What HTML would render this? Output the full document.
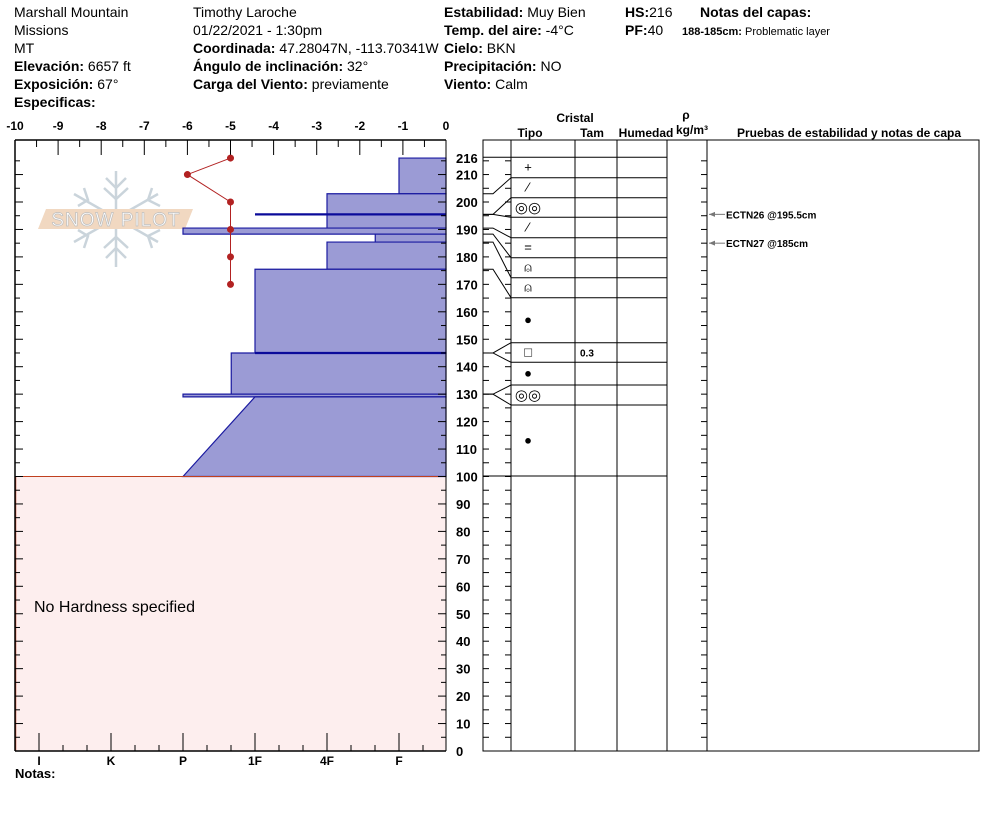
<!DOCTYPE html>
<html><head><meta charset="utf-8">
<style>
html,body{margin:0;padding:0;background:#fff;}
svg{display:block;font-family:"Liberation Sans",Arial,sans-serif;}
.h{font-size:14px;fill:#000;}
.b{font-weight:bold;}
.ax{font-size:12px;font-weight:bold;fill:#000;}
</style></head>
<body>
<svg id="chart" width="994" height="840" viewBox="0 0 994 840" xmlns="http://www.w3.org/2000/svg">
<g>
<text class="h" x="14" y="17">Marshall Mountain</text>
<text class="h" x="14" y="35">Missions</text>
<text class="h" x="14" y="53">MT</text>
<text class="h" x="14" y="71"><tspan class="b">Elevación:</tspan> 6657 ft</text>
<text class="h" x="14" y="89"><tspan class="b">Exposición:</tspan> 67°</text>
<text class="h b" x="14" y="107">Especificas:</text>
<text class="h" x="193" y="17">Timothy  Laroche</text>
<text class="h" x="193" y="35">01/22/2021 - 1:30pm</text>
<text class="h" x="193" y="53"><tspan class="b">Coordinada:</tspan> 47.28047N, -113.70341W</text>
<text class="h" x="193" y="71"><tspan class="b">Ángulo de inclinación:</tspan> 32°</text>
<text class="h" x="193" y="89"><tspan class="b">Carga del Viento:</tspan> previamente</text>
<text class="h" x="444" y="17"><tspan class="b">Estabilidad:</tspan> Muy Bien</text>
<text class="h" x="444" y="35"><tspan class="b">Temp. del aire:</tspan> -4°C</text>
<text class="h" x="444" y="53"><tspan class="b">Cielo:</tspan> BKN</text>
<text class="h" x="444" y="71"><tspan class="b">Precipitación:</tspan> NO</text>
<text class="h" x="444" y="89"><tspan class="b">Viento:</tspan>  Calm</text>
<text class="h" x="625" y="17"><tspan class="b">HS:</tspan>216</text>
<text class="h" x="625" y="35"><tspan class="b">PF:</tspan>40</text>
<text class="h b" x="700" y="17">Notas del capas:</text>
<text x="682" y="35" style="font-size:11px"><tspan style="font-weight:bold">188-185cm:</tspan> Problematic layer</text>
</g>

<g opacity="0.9">
<g stroke="#c5d0d8" stroke-width="2.5" fill="none">
<line x1="116" y1="171" x2="116" y2="267"/>
<line x1="74" y1="194" x2="158" y2="242"/>
<line x1="74" y1="242" x2="158" y2="194"/>
<path d="M106 178 L116 188 L126 178 M104 188 L116 199 L128 188 M106 258 L116 248 L126 258 M104 248 L116 237 L128 248"/>
<path d="M78 206 L88 200 L84 188 M160 206 L148 200 L152 188 M78 230 L88 236 L84 248 M160 230 L148 236 L152 248"/>
</g>
<polygon points="46,209 193,209 185,229 38,229" fill="#f0d4bb"/>
<text x="116" y="226" text-anchor="middle" style="font-size:19px;letter-spacing:1px" fill="#fff" stroke="#b8b8b8" stroke-width="0.7">SNOW PILOT</text>
</g>

<g id="plot"></g>
<g id="table"></g>

<text x="34" y="612" style="font-size:16px">No Hardness specified</text>
<text class="ax" x="15" y="778" style="font-size:13px">Notas:</text>
</svg>
<script>
// ---- data ----
const tempDepths = [216, 210, 200, 190, 180, 170];
const tempValues = [-5, -6, -5, -5, -5, -5];
const tempTicks = [-10,-9,-8,-7,-6,-5,-4,-3,-2,-1,0];
const hardLabels = ["I","K","P","1F","4F","F"];
const layerTops =    [216, 203, 190.5, 188.3, 185.4, 175.5, 145, 130, 129];
const layerBottoms = [203, 190.5, 188.3, 185.4, 175.5, 145, 130, 129, 100];
const layerHardTop = [5, 4, 2, 4.67, 4, 3, 2.67, 2, 3];
const layerHardBot = [5, 4, 2, 4.67, 4, 3, 2.67, 2, 2];
const interfaceLines = [195.5, 145];
const heightTicks = [0,10,20,30,40,50,60,70,80,90,100,110,120,130,140,150,160,170,180,190,200,210,216];
const grainTypes = ["+","⁄","◎◎","⁄","=","⍝","⍝","●","□","●","◎◎","●"];
const grainSizes = ["","","","","","","","","0.3","","",""];
const tests = ["ECTN26 @195.5cm","ECTN27 @185cm"];
const testDepths = [195.5, 185];
// ---- scales ----
const NS="http://www.w3.org/2000/svg";
const X0=15, X1=446, YB=751, YT=140;
const yS = h => YB - 2.745*h;
const xT = t => X1 + (t)*(X1-X0)/10;
const xH = v => 39 + 72*v;
function mk(parent, tag, attrs){const e=document.createElementNS(NS,tag);for(const k in attrs)e.setAttribute(k,attrs[k]);parent.appendChild(e);return e;}
const plot=document.getElementById('plot');
const table=document.getElementById('table');
let r=mk(plot,'rect',{x:X0,y:yS(100),width:X1-X0,height:YB-yS(100),fill:'#fdeeee'});


for(let i=0;i<layerTops.length;i++){
  const yt=yS(layerTops[i]), yb=yS(layerBottoms[i]);
  const p=mk(plot,'polygon',{points:`${xH(layerHardTop[i])},${yt} ${X1},${yt} ${X1},${yb} ${xH(layerHardBot[i])},${yb}`,fill:'#9b9bd5',stroke:'#1a1aa0','stroke-width':1.2});
  
  
}
for(const d of interfaceLines){
  const l=mk(plot,'line',{x1:xH(3),x2:X1,y1:yS(d),y2:yS(d),stroke:'#0a0a9a','stroke-width':2.2});
  
  
}
mk(plot,'line',{x1:X0,x2:X1,y1:yS(100),y2:yS(100),stroke:'#c0401f','stroke-width':1});
mk(plot,'line',{x1:X0+0.5,x2:X0+0.5,y1:yS(100),y2:YB,stroke:'#c0401f','stroke-width':1.5});
mk(plot,'line',{x1:X0,x2:X1,y1:YT,y2:YT,stroke:'#000','stroke-width':1.5});
mk(plot,'line',{x1:X0,x2:X0,y1:YT,y2:YB,stroke:'#000','stroke-width':1.5});
mk(plot,'line',{x1:X1,x2:X1,y1:YT,y2:YB,stroke:'#000','stroke-width':1});
mk(plot,'line',{x1:X0,x2:X1,y1:YB,y2:YB,stroke:'#000','stroke-width':1.5});
tempTicks.forEach((t,i)=>{
  const x=xT(t);
  mk(plot,'line',{x1:x,x2:x,y1:YT,y2:YT+15,stroke:'#000'});
  if(i<tempTicks.length-1){const xm=xT(t+0.5);mk(plot,'line',{x1:xm,x2:xm,y1:YT,y2:YT+7,stroke:'#000'});}
  const tx=mk(plot,'text',{x:x,y:YT-10,'text-anchor':'middle',class:'ax'});tx.textContent=t;
  
  
});
hardLabels.forEach((h,i)=>{
  const x=xH(i);
  mk(plot,'line',{x1:x,x2:x,y1:YB,y2:YB-18,stroke:'#000'});
  [24,48].forEach(o=>{if(x+o<X1)mk(plot,'line',{x1:x+o,x2:x+o,y1:YB,y2:YB-6,stroke:'#000'});});
  const tx=mk(plot,'text',{x:x,y:YB+14,'text-anchor':'middle',class:'ax'});tx.textContent=h;
  
  
});
for(let h=0;h<=215;h+=5){
  const y=yS(h), L=h%10===0?8:5;
  mk(plot,'line',{x1:X0,x2:X0+L,y1:y,y2:y,stroke:'#000'});
  mk(plot,'line',{x1:X1-L,x2:X1,y1:y,y2:y,stroke:'#000'});
  mk(table,'line',{x1:483,x2:489,y1:y,y2:y,stroke:'#000'});
  mk(table,'line',{x1:505,x2:511,y1:y,y2:y,stroke:'#000'});
  mk(table,'line',{x1:701,x2:707,y1:y,y2:y,stroke:'#000'});
}
heightTicks.forEach(h=>{
  const tx=mk(plot,'text',{x:456,y:yS(h)+5,class:'ax',style:'font-size:13px'});tx.textContent=h;
  
  
});
const pts=tempDepths.map((d,i)=>`${xT(tempValues[i])},${yS(d)}`).join(' ');
const pl=mk(plot,'polyline',{points:pts,fill:'none',stroke:'#b22222','stroke-width':1});


tempDepths.forEach((d,i)=>{
  const c=mk(plot,'circle',{cx:xT(tempValues[i]),cy:yS(d),r:3.5,fill:'#b22222'});
  
  
});
mk(table,'rect',{x:483,y:YT,width:496,height:YB-YT,fill:'none',stroke:'#000'});
[511,575,617,667,707].forEach(x=>mk(table,'line',{x1:x,x2:x,y1:YT,y2:YB,stroke:'#000'}));
const rowB=[157.3,177.7,197.7,217.3,237.7,257.7,277.7,297.7,342.7,362.3,385,405,476];
rowB.forEach(y=>mk(table,'line',{x1:511,x2:667,y1:y,y2:y,stroke:'#000'}));
mk(table,'line',{x1:483,x2:511,y1:157.3,y2:157.3,stroke:'#000'});
mk(table,'line',{x1:483,x2:511,y1:476,y2:476,stroke:'#000'});
const conFrom=[203,195.5,195.5,190.5,188.3,185.4,175.5,145,145,130,130];
const conTo=[1,2,3,4,5,6,7,8,9,10,11];
conFrom.forEach((d,i)=>{
  const y=yS(d);
  mk(table,'polyline',{points:`483,${y} 493,${y} 511,${rowB[conTo[i]]}`,fill:'none',stroke:'#000'});
});
grainTypes.forEach((g,i)=>{
  const yc=(rowB[i]+rowB[i+1])/2+4;
  const t=mk(table,'text',{x:528,y:yc+(g==='◎◎'?1:0),'text-anchor':'middle',style:'font-size:'+(g==='◎◎'?'15px':'13px')});t.textContent=g;
  
  
  if(grainSizes[i]){const s=mk(table,'text',{x:580,y:yc,style:'font-size:10px;font-weight:bold'});s.textContent=grainSizes[i];
  
  }
});
tests.forEach((t,i)=>{
  const y=yS(testDepths[i]);
  mk(table,'line',{x1:709,x2:725,y1:y,y2:y,stroke:'#777'});
  mk(table,'polygon',{points:`709,${y} 715,${y-2.5} 715,${y+2.5}`,fill:'#777'});
  const tx=mk(table,'text',{x:726,y:y+4,style:'font-size:10px;font-weight:bold'});tx.textContent=t;
  
  
});
const hdr=[["Cristal",575,122],["Tipo",530,137],["Tam",592,137],["Humedad",646,137],["ρ",686,119],["kg/m³",692,134],["Pruebas de estabilidad y notas de capa",849,137]];
hdr.forEach(h=>{const t=mk(table,'text',{x:h[1],y:h[2],'text-anchor':'middle',class:'ax'});t.textContent=h[0];
  
  });
</script>
</body></html>
